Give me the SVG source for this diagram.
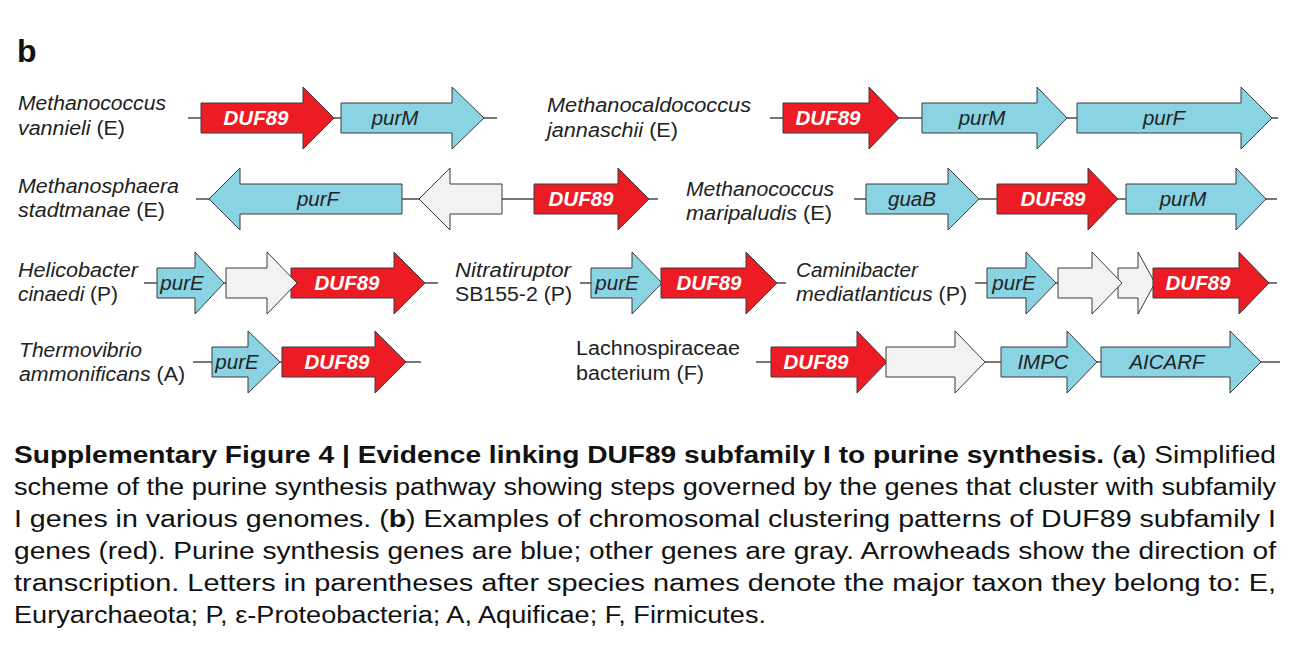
<svg xmlns="http://www.w3.org/2000/svg" width="1300" height="650" viewBox="0 0 1300 650">
<style>
  .bg{fill:#ffffff}
  .bb{stroke:#4a4a4a;stroke-width:1.5;fill:none}
  .red{fill:#ED1C24;stroke:#3a3a3a;stroke-width:1}
  .blue{fill:#8AD3E3;stroke:#3a3a3a;stroke-width:1}
  .gray{fill:#F2F2F2;stroke:#3a3a3a;stroke-width:1}
  .sp{font-family:"Liberation Sans",Arial,sans-serif;font-size:20px;fill:#222}
  .it{font-style:italic}
  .gl{font-family:"Liberation Sans",Arial,sans-serif;font-size:20.5px;font-style:italic;fill:#222;text-anchor:middle}
  .dl{font-family:"Liberation Sans",Arial,sans-serif;font-size:20.5px;font-style:italic;font-weight:bold;fill:#ffffff;text-anchor:middle}
  .cap{font-family:"Liberation Sans",Arial,sans-serif;font-size:23.5px;fill:#111}
  .hd{font-family:"Liberation Sans",Arial,sans-serif;font-size:32px;font-weight:bold;fill:#111}
</style>
<rect class="bg" x="0" y="0" width="1300" height="650"/>
<text class="hd" x="17" y="62">b</text>

<g id="connectors">
  <line class="bb" x1="188" y1="118" x2="497" y2="118"/>
  <line class="bb" x1="770" y1="118" x2="1278" y2="118"/>
  <line class="bb" x1="196" y1="199" x2="658" y2="199"/>
  <line class="bb" x1="854" y1="199" x2="1277" y2="199"/>
  <line class="bb" x1="144" y1="283" x2="438" y2="283"/>
  <line class="bb" x1="580" y1="283" x2="786" y2="283"/>
  <line class="bb" x1="975" y1="283" x2="1277" y2="283"/>
  <line class="bb" x1="193" y1="362" x2="421" y2="362"/>
  <line class="bb" x1="756" y1="362" x2="1280" y2="362"/>
</g>

<!-- Row 1 left -->
<g id="m-vannieli">
  <text class="sp" x="18" y="110" textLength="148" lengthAdjust="spacingAndGlyphs"><tspan class="it">Methanococcus</tspan></text>
  <text class="sp" x="18" y="135" textLength="107" lengthAdjust="spacingAndGlyphs"><tspan class="it">vannieli</tspan> (E)</text>
  <polygon class="red" points="201,103 303,103 303,87 334,118 303,149 303,133 201,133"/>
  <text class="dl" x="256" y="125">DUF89</text>
  <polygon class="blue" points="341,103 452,103 452,87 484,118 452,149 452,133 341,133"/>
  <text class="gl" x="395" y="125">purM</text>
</g>

<!-- Row 1 right -->
<g id="m-jannaschii">
  <text class="sp" x="547" y="112" textLength="204" lengthAdjust="spacingAndGlyphs"><tspan class="it">Methanocaldococcus</tspan></text>
  <text class="sp" x="547" y="137" textLength="131" lengthAdjust="spacingAndGlyphs"><tspan class="it">jannaschii</tspan> (E)</text>
  <polygon class="red" points="783,103 869,103 869,87 899,118 869,149 869,133 783,133"/>
  <text class="dl" x="828" y="125">DUF89</text>
  <polygon class="blue" points="922,103 1037,103 1037,87 1067,118 1037,149 1037,133 922,133"/>
  <text class="gl" x="982" y="125">purM</text>
  <polygon class="blue" points="1077,103 1241,103 1241,87 1272,118 1241,149 1241,133 1077,133"/>
  <text class="gl" x="1164" y="125">purF</text>
</g>

<!-- Row 2 left -->
<g id="m-stadtmanae">
  <text class="sp" x="18" y="193" textLength="161" lengthAdjust="spacingAndGlyphs"><tspan class="it">Methanosphaera</tspan></text>
  <text class="sp" x="18" y="217" textLength="147" lengthAdjust="spacingAndGlyphs"><tspan class="it">stadtmanae</tspan> (E)</text>
  <polygon class="blue" points="402,184 240,184 240,168 209,199 240,230 240,214 402,214"/>
  <text class="gl" x="318" y="206">purF</text>
  <polygon class="gray" points="502,184 450,184 450,168 419,199 450,230 450,214 502,214"/>
  <polygon class="red" points="534,184 618,184 618,168 649,199 618,230 618,214 534,214"/>
  <text class="dl" x="581" y="206">DUF89</text>
</g>

<!-- Row 2 right -->
<g id="m-maripaludis">
  <text class="sp" x="686" y="196" textLength="148" lengthAdjust="spacingAndGlyphs"><tspan class="it">Methanococcus</tspan></text>
  <text class="sp" x="686" y="220" textLength="146" lengthAdjust="spacingAndGlyphs"><tspan class="it">maripaludis</tspan> (E)</text>
  <polygon class="blue" points="866,184 948,184 948,168 979,199 948,230 948,214 866,214"/>
  <text class="gl" x="912" y="206">guaB</text>
  <polygon class="red" points="997,184 1088,184 1088,168 1118,199 1088,230 1088,214 997,214"/>
  <text class="dl" x="1053" y="206">DUF89</text>
  <polygon class="blue" points="1126,184 1236,184 1236,168 1266,199 1236,230 1236,214 1126,214"/>
  <text class="gl" x="1183" y="206">purM</text>
</g>

<!-- Row 3 left -->
<g id="h-cinaedi">
  <text class="sp" x="18" y="277" textLength="120" lengthAdjust="spacingAndGlyphs"><tspan class="it">Helicobacter</tspan></text>
  <text class="sp" x="18" y="301" textLength="100" lengthAdjust="spacingAndGlyphs"><tspan class="it">cinaedi</tspan> (P)</text>
  <polygon class="blue" points="157,268 195,268 195,252 224,283 195,314 195,298 157,298"/>
  <text class="gl" x="182" y="290">purE</text>
  <polygon class="red" points="291,268 394,268 394,252 425,283 394,314 394,298 291,298"/>
  <polygon class="gray" points="226,268 267,268 267,252 297,283 267,314 267,298 226,298"/>
  <text class="dl" x="347" y="290">DUF89</text>
</g>

<!-- Row 3 middle -->
<g id="n-sb155">
  <text class="sp" x="455" y="277" textLength="116" lengthAdjust="spacingAndGlyphs"><tspan class="it">Nitratiruptor</tspan></text>
  <text class="sp" x="455" y="301" textLength="117" lengthAdjust="spacingAndGlyphs">SB155-2 (P)</text>
  <polygon class="blue" points="591,268 632,268 632,252 662,283 632,314 632,298 591,298"/>
  <text class="gl" x="617" y="290">purE</text>
  <polygon class="red" points="661,268 746,268 746,252 777,283 746,314 746,298 661,298"/>
  <text class="dl" x="709" y="290">DUF89</text>
</g>

<!-- Row 3 right -->
<g id="c-mediatlanticus">
  <text class="sp" x="796" y="277" textLength="122" lengthAdjust="spacingAndGlyphs"><tspan class="it">Caminibacter</tspan></text>
  <text class="sp" x="796" y="301" textLength="171" lengthAdjust="spacingAndGlyphs"><tspan class="it">mediatlanticus</tspan> (P)</text>
  <polygon class="blue" points="987,268 1026,268 1026,252 1056,283 1026,314 1026,298 987,298"/>
  <text class="gl" x="1014" y="290">purE</text>
  <polygon class="gray" points="1118,268 1138,268 1138,252 1155,283 1138,314 1138,298 1118,298"/>
  <polygon class="gray" points="1058,268 1092,268 1092,252 1122,283 1092,314 1092,298 1058,298"/>
  <polygon class="red" points="1153,268 1239,268 1239,252 1269,283 1239,314 1239,298 1153,298"/>
  <text class="dl" x="1198" y="290">DUF89</text>
</g>

<!-- Row 4 left -->
<g id="t-ammonificans">
  <text class="sp" x="19" y="357" textLength="123" lengthAdjust="spacingAndGlyphs"><tspan class="it">Thermovibrio</tspan></text>
  <text class="sp" x="19" y="381" textLength="166" lengthAdjust="spacingAndGlyphs"><tspan class="it">ammonificans</tspan> (A)</text>
  <polygon class="blue" points="212,347 248,347 248,331 280,362 248,393 248,377 212,377"/>
  <text class="gl" x="237" y="369">purE</text>
  <polygon class="red" points="282,347 375,347 375,331 406,362 375,393 375,377 282,377"/>
  <text class="dl" x="337" y="369">DUF89</text>
</g>

<!-- Row 4 right -->
<g id="lachnospiraceae">
  <text class="sp" x="576" y="355" textLength="164" lengthAdjust="spacingAndGlyphs">Lachnospiraceae</text>
  <text class="sp" x="576" y="380" textLength="128" lengthAdjust="spacingAndGlyphs">bacterium (F)</text>
  <polygon class="red" points="771,347 857,347 857,331 887,362 857,393 857,377 771,377"/>
  <text class="dl" x="816" y="369">DUF89</text>
  <polygon class="gray" points="886,347 955,347 955,331 985,362 955,393 955,377 886,377"/>
  <polygon class="blue" points="1001,347 1067,347 1067,331 1097,362 1067,393 1067,377 1001,377"/>
  <text class="gl" x="1043" y="369">IMPC</text>
  <polygon class="blue" points="1101,347 1230,347 1230,331 1261,362 1230,393 1230,377 1101,377"/>
  <text class="gl" x="1167" y="369">AICARF</text>
</g>

<g id="caption">
  <text class="cap" x="14" y="463" textLength="1262" lengthAdjust="spacingAndGlyphs"><tspan font-weight="bold">Supplementary Figure 4 | Evidence linking DUF89 subfamily I to purine synthesis.</tspan> (<tspan font-weight="bold">a</tspan>) Simplified</text>
  <text class="cap" x="14" y="495" textLength="1262" lengthAdjust="spacingAndGlyphs">scheme of the purine synthesis pathway showing steps governed by the genes that cluster with subfamily</text>
  <text class="cap" x="14" y="527" textLength="1262" lengthAdjust="spacingAndGlyphs">I genes in various genomes. (<tspan font-weight="bold">b</tspan>) Examples of chromosomal clustering patterns of DUF89 subfamily I</text>
  <text class="cap" x="14" y="559" textLength="1262" lengthAdjust="spacingAndGlyphs">genes (red). Purine synthesis genes are blue; other genes are gray. Arrowheads show the direction of</text>
  <text class="cap" x="14" y="591" textLength="1262" lengthAdjust="spacingAndGlyphs">transcription. Letters in parentheses after species names denote the major taxon they belong to: E,</text>
  <text class="cap" x="14" y="623" textLength="752" lengthAdjust="spacingAndGlyphs">Euryarchaeota; P, ε-Proteobacteria; A, Aquificae; F, Firmicutes.</text>
</g>
</svg>
